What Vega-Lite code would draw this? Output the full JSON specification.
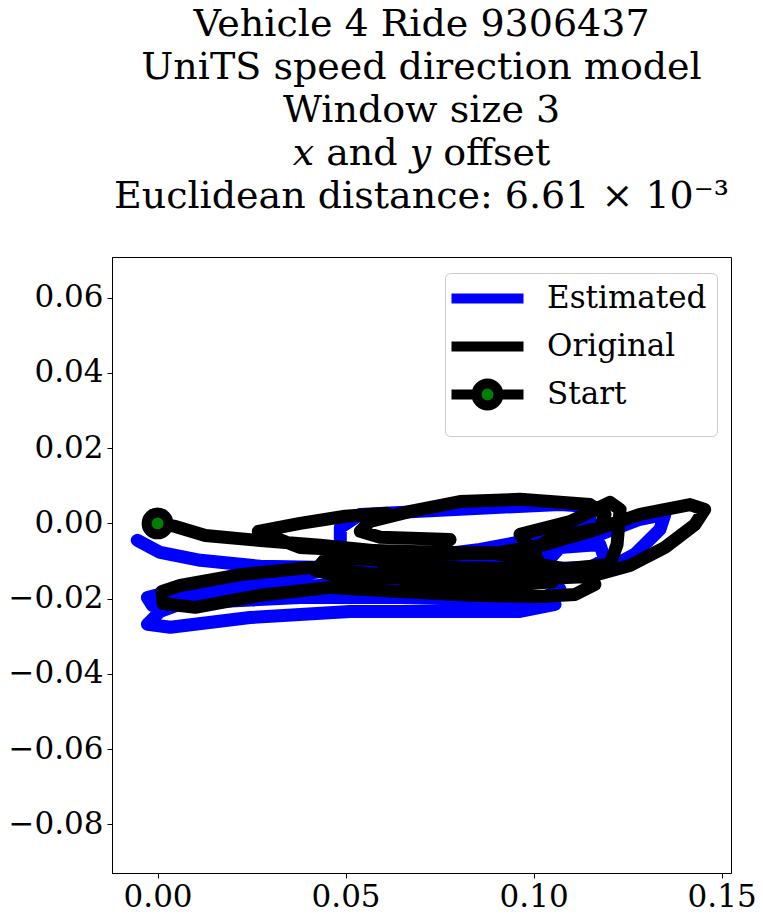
{
  "$schema": "https://vega.github.io/schema/vega-lite/v6.json",
  "autosize": {"type": "none"},
  "padding": {"left": 112, "top": 257, "right": 32, "bottom": 47},
  "width": 619,
  "height": 616,
  "title": {
    "text": ["Vehicle 4 Ride 9306437", "UniTS speed direction model", "Window size 3", "𝑥 and 𝑦 offset", "Euclidean distance: 6.61 × 10⁻³"],
    "anchor": "middle",
    "frame": "group",
    "font": "DejaVu Serif",
    "fontSize": 38,
    "fontWeight": "normal",
    "color": "black",
    "lineHeight": 43,
    "baseline": "bottom",
    "offset": 3
  },
  "datasets": {
    "estimated": [
      {"series": "Estimated", "i": 1, "x": -0.0054, "y": -0.0045},
      {"series": "Estimated", "i": 2, "x": 0.0007, "y": -0.0077},
      {"series": "Estimated", "i": 3, "x": 0.0114, "y": -0.0098},
      {"series": "Estimated", "i": 4, "x": 0.0273, "y": -0.0114},
      {"series": "Estimated", "i": 5, "x": 0.0459, "y": -0.0117},
      {"series": "Estimated", "i": 6, "x": 0.0671, "y": -0.0112},
      {"series": "Estimated", "i": 7, "x": 0.0858, "y": -0.0101},
      {"series": "Estimated", "i": 8, "x": 0.1030, "y": -0.0074},
      {"series": "Estimated", "i": 9, "x": 0.1176, "y": -0.0029},
      {"series": "Estimated", "i": 10, "x": 0.1283, "y": 0.0011},
      {"series": "Estimated", "i": 11, "x": 0.1349, "y": 0.0024},
      {"series": "Estimated", "i": 12, "x": 0.1336, "y": -0.0016},
      {"series": "Estimated", "i": 13, "x": 0.1269, "y": -0.0082},
      {"series": "Estimated", "i": 14, "x": 0.1203, "y": -0.0117},
      {"series": "Estimated", "i": 15, "x": 0.1070, "y": -0.0144},
      {"series": "Estimated", "i": 16, "x": 0.0858, "y": -0.0149},
      {"series": "Estimated", "i": 17, "x": 0.0645, "y": -0.0157},
      {"series": "Estimated", "i": 18, "x": 0.0432, "y": -0.0165},
      {"series": "Estimated", "i": 19, "x": 0.0220, "y": -0.0175},
      {"series": "Estimated", "i": 20, "x": 0.0034, "y": -0.0181},
      {"series": "Estimated", "i": 21, "x": -0.0027, "y": -0.0197},
      {"series": "Estimated", "i": 22, "x": -0.0014, "y": -0.0218},
      {"series": "Estimated", "i": 23, "x": 0.0114, "y": -0.0210},
      {"series": "Estimated", "i": 24, "x": 0.0379, "y": -0.0197},
      {"series": "Estimated", "i": 25, "x": 0.0645, "y": -0.0197},
      {"series": "Estimated", "i": 26, "x": 0.0858, "y": -0.0202},
      {"series": "Estimated", "i": 27, "x": 0.1017, "y": -0.0202},
      {"series": "Estimated", "i": 28, "x": 0.1070, "y": -0.0175},
      {"series": "Estimated", "i": 29, "x": 0.1030, "y": -0.0109},
      {"series": "Estimated", "i": 30, "x": 0.1070, "y": -0.0064},
      {"series": "Estimated", "i": 31, "x": 0.1176, "y": -0.0056},
      {"series": "Estimated", "i": 32, "x": 0.1190, "y": -0.0096},
      {"series": "Estimated", "i": 33, "x": 0.1150, "y": -0.0117},
      {"series": "Estimated", "i": 34, "x": 0.0964, "y": -0.0122},
      {"series": "Estimated", "i": 35, "x": 0.0751, "y": -0.0117},
      {"series": "Estimated", "i": 36, "x": 0.0539, "y": -0.0096},
      {"series": "Estimated", "i": 37, "x": 0.0486, "y": -0.0056},
      {"series": "Estimated", "i": 38, "x": 0.0486, "y": -0.0011},
      {"series": "Estimated", "i": 39, "x": 0.0539, "y": 0.0024},
      {"series": "Estimated", "i": 40, "x": 0.0698, "y": 0.0032},
      {"series": "Estimated", "i": 41, "x": 0.0911, "y": 0.0043},
      {"series": "Estimated", "i": 42, "x": 0.1070, "y": 0.0050},
      {"series": "Estimated", "i": 43, "x": 0.1150, "y": 0.0045},
      {"series": "Estimated", "i": 44, "x": 0.1150, "y": 0.0011},
      {"series": "Estimated", "i": 45, "x": 0.1070, "y": -0.0029},
      {"series": "Estimated", "i": 46, "x": 0.0858, "y": -0.0069},
      {"series": "Estimated", "i": 47, "x": 0.0645, "y": -0.0096},
      {"series": "Estimated", "i": 48, "x": 0.0379, "y": -0.0136},
      {"series": "Estimated", "i": 49, "x": 0.0167, "y": -0.0175},
      {"series": "Estimated", "i": 50, "x": 0.0007, "y": -0.0234},
      {"series": "Estimated", "i": 51, "x": -0.0027, "y": -0.0268},
      {"series": "Estimated", "i": 52, "x": 0.0034, "y": -0.0276},
      {"series": "Estimated", "i": 53, "x": 0.0246, "y": -0.0250},
      {"series": "Estimated", "i": 54, "x": 0.0512, "y": -0.0234},
      {"series": "Estimated", "i": 55, "x": 0.0725, "y": -0.0234},
      {"series": "Estimated", "i": 56, "x": 0.0964, "y": -0.0234},
      {"series": "Estimated", "i": 57, "x": 0.1057, "y": -0.0215}
    ],
    "original": [
      {"series": "Original", "i": 1, "x": 0.0, "y": 0.0},
      {"series": "Original", "i": 2, "x": 0.0047, "y": -0.0008},
      {"series": "Original", "i": 3, "x": 0.0127, "y": -0.0032},
      {"series": "Original", "i": 4, "x": 0.0246, "y": -0.0043},
      {"series": "Original", "i": 5, "x": 0.0432, "y": -0.0058},
      {"series": "Original", "i": 6, "x": 0.0592, "y": -0.0074},
      {"series": "Original", "i": 7, "x": 0.0751, "y": -0.0082},
      {"series": "Original", "i": 8, "x": 0.0911, "y": -0.0077},
      {"series": "Original", "i": 9, "x": 0.1030, "y": -0.0056},
      {"series": "Original", "i": 10, "x": 0.1150, "y": -0.0021},
      {"series": "Original", "i": 11, "x": 0.1283, "y": 0.0024},
      {"series": "Original", "i": 12, "x": 0.1416, "y": 0.0050},
      {"series": "Original", "i": 13, "x": 0.1455, "y": 0.0037},
      {"series": "Original", "i": 14, "x": 0.1429, "y": -0.0003},
      {"series": "Original", "i": 15, "x": 0.1349, "y": -0.0064},
      {"series": "Original", "i": 16, "x": 0.1256, "y": -0.0112},
      {"series": "Original", "i": 17, "x": 0.1150, "y": -0.0141},
      {"series": "Original", "i": 18, "x": 0.0964, "y": -0.0149},
      {"series": "Original", "i": 19, "x": 0.0778, "y": -0.0154},
      {"series": "Original", "i": 20, "x": 0.0592, "y": -0.0136},
      {"series": "Original", "i": 21, "x": 0.0406, "y": -0.0117},
      {"series": "Original", "i": 22, "x": 0.0220, "y": -0.0136},
      {"series": "Original", "i": 23, "x": 0.0060, "y": -0.0165},
      {"series": "Original", "i": 24, "x": 0.0012, "y": -0.0181},
      {"series": "Original", "i": 25, "x": 0.0015, "y": -0.0213},
      {"series": "Original", "i": 26, "x": 0.0100, "y": -0.0223},
      {"series": "Original", "i": 27, "x": 0.0273, "y": -0.0191},
      {"series": "Original", "i": 28, "x": 0.0459, "y": -0.0170},
      {"series": "Original", "i": 29, "x": 0.0645, "y": -0.0181},
      {"series": "Original", "i": 30, "x": 0.0831, "y": -0.0191},
      {"series": "Original", "i": 31, "x": 0.1017, "y": -0.0194},
      {"series": "Original", "i": 32, "x": 0.1110, "y": -0.0189},
      {"series": "Original", "i": 33, "x": 0.1163, "y": -0.0162},
      {"series": "Original", "i": 34, "x": 0.1137, "y": -0.0130},
      {"series": "Original", "i": 35, "x": 0.1017, "y": -0.0109},
      {"series": "Original", "i": 36, "x": 0.0998, "y": -0.0069},
      {"series": "Original", "i": 37, "x": 0.1044, "y": -0.0043},
      {"series": "Original", "i": 38, "x": 0.1176, "y": -0.0011},
      {"series": "Original", "i": 39, "x": 0.1190, "y": 0.0024},
      {"series": "Original", "i": 40, "x": 0.1150, "y": 0.0050},
      {"series": "Original", "i": 41, "x": 0.0964, "y": 0.0064},
      {"series": "Original", "i": 42, "x": 0.0804, "y": 0.0058},
      {"series": "Original", "i": 43, "x": 0.0672, "y": 0.0032},
      {"series": "Original", "i": 44, "x": 0.0565, "y": 0.0005},
      {"series": "Original", "i": 45, "x": 0.0539, "y": -0.0021},
      {"series": "Original", "i": 46, "x": 0.0592, "y": -0.0037},
      {"series": "Original", "i": 47, "x": 0.0778, "y": -0.0043},
      {"series": "Original", "i": 48, "x": 0.0700, "y": -0.0100},
      {"series": "Original", "i": 49, "x": 0.0600, "y": -0.0125},
      {"series": "Original", "i": 50, "x": 0.0700, "y": -0.0168},
      {"series": "Original", "i": 51, "x": 0.0900, "y": -0.0168},
      {"series": "Original", "i": 52, "x": 0.1050, "y": -0.0155},
      {"series": "Original", "i": 53, "x": 0.0964, "y": -0.0029},
      {"series": "Original", "i": 54, "x": 0.1097, "y": 0.0005},
      {"series": "Original", "i": 55, "x": 0.1203, "y": 0.0056},
      {"series": "Original", "i": 56, "x": 0.1230, "y": 0.0037},
      {"series": "Original", "i": 57, "x": 0.1222, "y": -0.0056},
      {"series": "Original", "i": 58, "x": 0.1203, "y": -0.0109},
      {"series": "Original", "i": 59, "x": 0.1070, "y": -0.0122},
      {"series": "Original", "i": 60, "x": 0.0804, "y": -0.0117},
      {"series": "Original", "i": 61, "x": 0.0565, "y": -0.0096},
      {"series": "Original", "i": 62, "x": 0.0450, "y": -0.0090},
      {"series": "Original", "i": 63, "x": 0.0420, "y": -0.0125},
      {"series": "Original", "i": 64, "x": 0.0500, "y": -0.0145},
      {"series": "Original", "i": 65, "x": 0.0700, "y": -0.0140},
      {"series": "Original", "i": 66, "x": 0.0900, "y": -0.0125},
      {"series": "Original", "i": 67, "x": 0.1000, "y": -0.0100},
      {"series": "Original", "i": 68, "x": 0.0900, "y": -0.0080},
      {"series": "Original", "i": 69, "x": 0.0700, "y": -0.0075},
      {"series": "Original", "i": 70, "x": 0.0500, "y": -0.0070},
      {"series": "Original", "i": 71, "x": 0.0379, "y": -0.0064},
      {"series": "Original", "i": 72, "x": 0.0268, "y": -0.0021},
      {"series": "Original", "i": 73, "x": 0.0379, "y": 0.0},
      {"series": "Original", "i": 74, "x": 0.0499, "y": 0.0019},
      {"series": "Original", "i": 75, "x": 0.0610, "y": 0.0027}
    ],
    "start": [
      {"series": "Start", "i": 1, "x": 0.0, "y": 0.0}
    ]
  },
  "encoding": {
    "x": {
      "field": "x",
      "type": "quantitative",
      "scale": {"domain": [-0.01212, 0.1525], "nice": false, "zero": false},
      "axis": {"title": null, "values": [0, 0.05, 0.1, 0.15], "format": ".2f"}
    },
    "y": {
      "field": "y",
      "type": "quantitative",
      "scale": {"domain": [-0.0929, 0.0708], "nice": false, "zero": false},
      "axis": {"title": null, "values": [-0.08, -0.06, -0.04, -0.02, 0, 0.02, 0.04, 0.06], "format": ".2f"}
    },
    "order": {"field": "i", "type": "quantitative"},
    "color": {
      "field": "series",
      "type": "nominal",
      "scale": {"domain": ["Estimated", "Original", "Start"], "range": ["blue", "black", "black"]},
      "legend": {
        "title": null,
        "orient": "none",
        "legendX": 333,
        "legendY": 16,
        "padding": 10,
        "rowPadding": -15,
        "labelOffset": 61,
        "labelFont": "DejaVu Serif",
        "labelFontSize": 31,
        "labelColor": "black",
        "symbolSize": 400,
        "symbolStrokeWidth": 10,
        "symbolType": "M-1.9,0L5.3,0",
        "fillColor": "rgba(255,255,255,0.8)",
        "strokeColor": "#cccccc",
        "cornerRadius": 5,
        "encode": {
          "symbols": {
            "update": {
              "shape": {"signal": "datum.value === 'Start' ? 'M-1.9,0L0.6,0M2.8,0L5.3,0M2.8,0A1.1,1.1,0,1,1,0.6,0A1.1,1.1,0,1,1,2.8,0Z' : 'M-1.9,0L5.3,0M1.7,-1.1M1.7,1.1'"},
              "stroke": {"signal": "datum.value === 'Estimated' ? 'blue' : 'black'"},
              "fill": {"signal": "datum.value === 'Start' ? 'green' : 'transparent'"},
              "strokeWidth": {"value": 10},
              "opacity": {"value": 1}
            }
          }
        }
      }
    }
  },
  "layer": [
    {
      "data": {"name": "estimated"},
      "mark": {"type": "line", "strokeWidth": 13, "strokeCap": "round", "strokeJoin": "round"}
    },
    {
      "data": {"name": "original"},
      "mark": {"type": "line", "strokeWidth": 13, "strokeCap": "round", "strokeJoin": "round"}
    },
    {
      "data": {"name": "start"},
      "mark": {"type": "point", "filled": true, "size": 480, "stroke": "black", "strokeWidth": 10, "opacity": 1},
      "encoding": {"color": {"value": "green"}}
    }
  ],
  "config": {
    "view": {"stroke": "black", "strokeWidth": 1},
    "axis": {
      "grid": false,
      "domainColor": "black",
      "tickColor": "black",
      "tickSize": 5,
      "labelFont": "DejaVu Serif",
      "labelFontSize": 31,
      "labelColor": "black",
      "labelPadding": 4
    }
  }
}
